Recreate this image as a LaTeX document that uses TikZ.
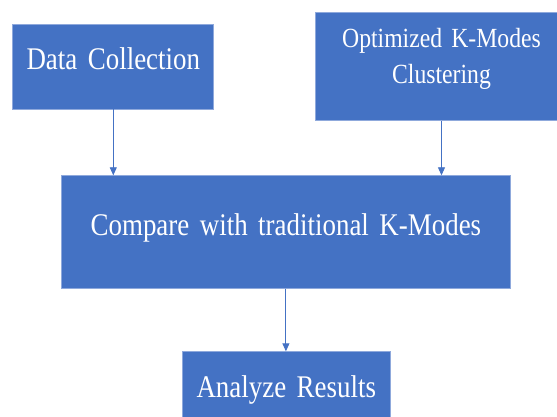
\documentclass[tikz,border=0pt]{standalone}
\usepackage{fontspec}
\setmainfont{Liberation Serif}[FakeStretch=0.855,WordSpace=0.75]
\usepackage{tikz}
\usetikzlibrary{arrows.meta}
\definecolor{boxfill}{HTML}{4472C4}
\definecolor{boxline}{HTML}{8FA9DC}
\definecolor{flowline}{HTML}{4472C4}

\begin{document}
\begin{tikzpicture}[x=1pt,y=-1pt,
	stage/.style={draw=boxline,line width=0.8pt,fill=boxfill,text=white,inner sep=0pt,align=center,anchor=base,
		font=\fontsize{31.5}{36}\selectfont},
	flow/.style={draw=flowline,line width=0.9pt,-{Triangle[length=8pt,width=7pt]}}]
	\clip (0,0) rectangle (557,417);
	\fill[white] (0,0) rectangle (557,417);
	% boxes
	\node[stage,text width=201pt,text height=45pt,text depth=39.7pt] (collect) at (113.3,69.3) {Data Collection};
	\node[stage,text width=253pt,text height=35.2pt,text depth=73.2pt,font=\fontsize{27.7}{36}\selectfont] (optim) at (441.5,47.5) {Optimized K-Modes\\Clustering};
	\node[stage,text width=448.3pt,text height=60pt,text depth=52.6pt] (compare) at (285.9,235.7) {Compare with traditional K-Modes};
	\node[stage,text width=207.3pt,text height=45.6pt,text depth=40pt] (analyze) at (286.3,397.3) {Analyze Results};
	% arrows
	\draw[flow] (collect.south) -- (collect.south |- compare.north);
	\draw[flow] (optim.south) -- (optim.south |- compare.north);
	\draw[flow] (compare.south) -- (compare.south |- analyze.north);
\end{tikzpicture}
\end{document}
